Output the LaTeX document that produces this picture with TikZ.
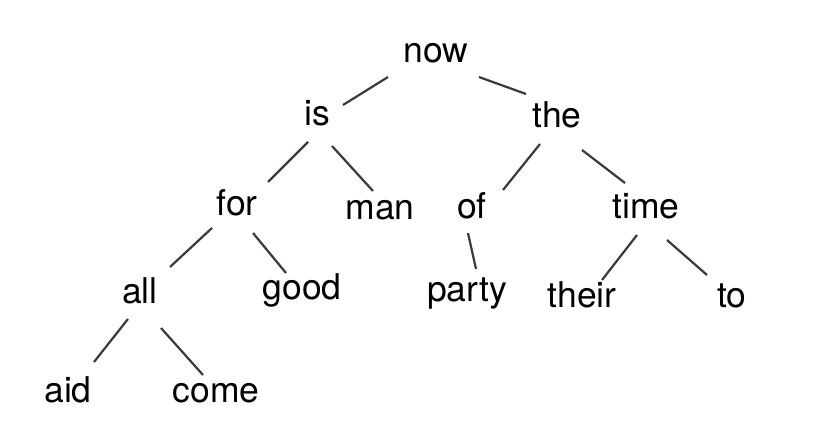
\documentclass[tikz,border=0pt]{standalone}
\usepackage{fontspec}
\setmainfont{TeX Gyre Heros}
\definecolor{edgegray}{RGB}{62,56,56}
\begin{document}
\begin{tikzpicture}[x=1pt,y=-1pt,
  word/.style={anchor=base,inner sep=0pt,font=\fontsize{35.5}{40}\selectfont,text=black},
  edge/.style={draw=edgegray,line width=2.2pt,line cap=butt}]
\useasboundingbox[fill=white] (0,0) rectangle (825,444);
\node[word] (now)   at (436,63)  {now};
\node[word] (is)    at (317,125) {is};
\node[word] (the)   at (557,127) {the};
\node[word] (for)   at (237,215) {for};
\node[word] (man)   at (380,219) {man};
\node[word] (of)    at (472,218) {of};
\node[word] (time)  at (646,218) {time};
\node[word] (all)   at (140,303) {all};
\node[word] (good)  at (302,299) {good};
\node[word] (party) at (467,301) {party};
\node[word] (their) at (582,307) {their};
\node[word] (to)    at (732,307) {to};
\node[word] (aid)   at (68,402)  {aid};
\node[word] (come)  at (216,402) {come};
\draw[edge] ([shift={(-48,14)}]now.base) -- ([shift={(26,-20)}]is.base);
\draw[edge] ([shift={(43,14)}]now.base) -- ([shift={(-31,-33)}]the.base);
\draw[edge] ([shift={(-9,17)}]is.base) -- ([shift={(31,-33)}]for.base);
\draw[edge] ([shift={(15,21)}]is.base) -- ([shift={(-7,-28)}]man.base);
\draw[edge] ([shift={(-17,17)}]the.base) -- ([shift={(31,-28)}]of.base);
\draw[edge] ([shift={(25,23)}]the.base) -- ([shift={(-21,-35)}]time.base);
\draw[edge] ([shift={(-25,13)}]for.base) -- ([shift={(30,-36)}]all.base);
\draw[edge] ([shift={(16,18)}]for.base) -- ([shift={(-16,-26)}]good.base);
\draw[edge] ([shift={(-4,15)}]of.base) -- ([shift={(9,-32)}]party.base);
\draw[edge] ([shift={(-9,17)}]time.base) -- ([shift={(20,-27)}]their.base);
\draw[edge] ([shift={(21,22)}]time.base) -- ([shift={(-25,-32)}]to.base);
\draw[edge] ([shift={(-12,16)}]all.base) -- ([shift={(26,-40)}]aid.base);
\draw[edge] ([shift={(21,25)}]all.base) -- ([shift={(-13,-27)}]come.base);
\end{tikzpicture}
\end{document}
